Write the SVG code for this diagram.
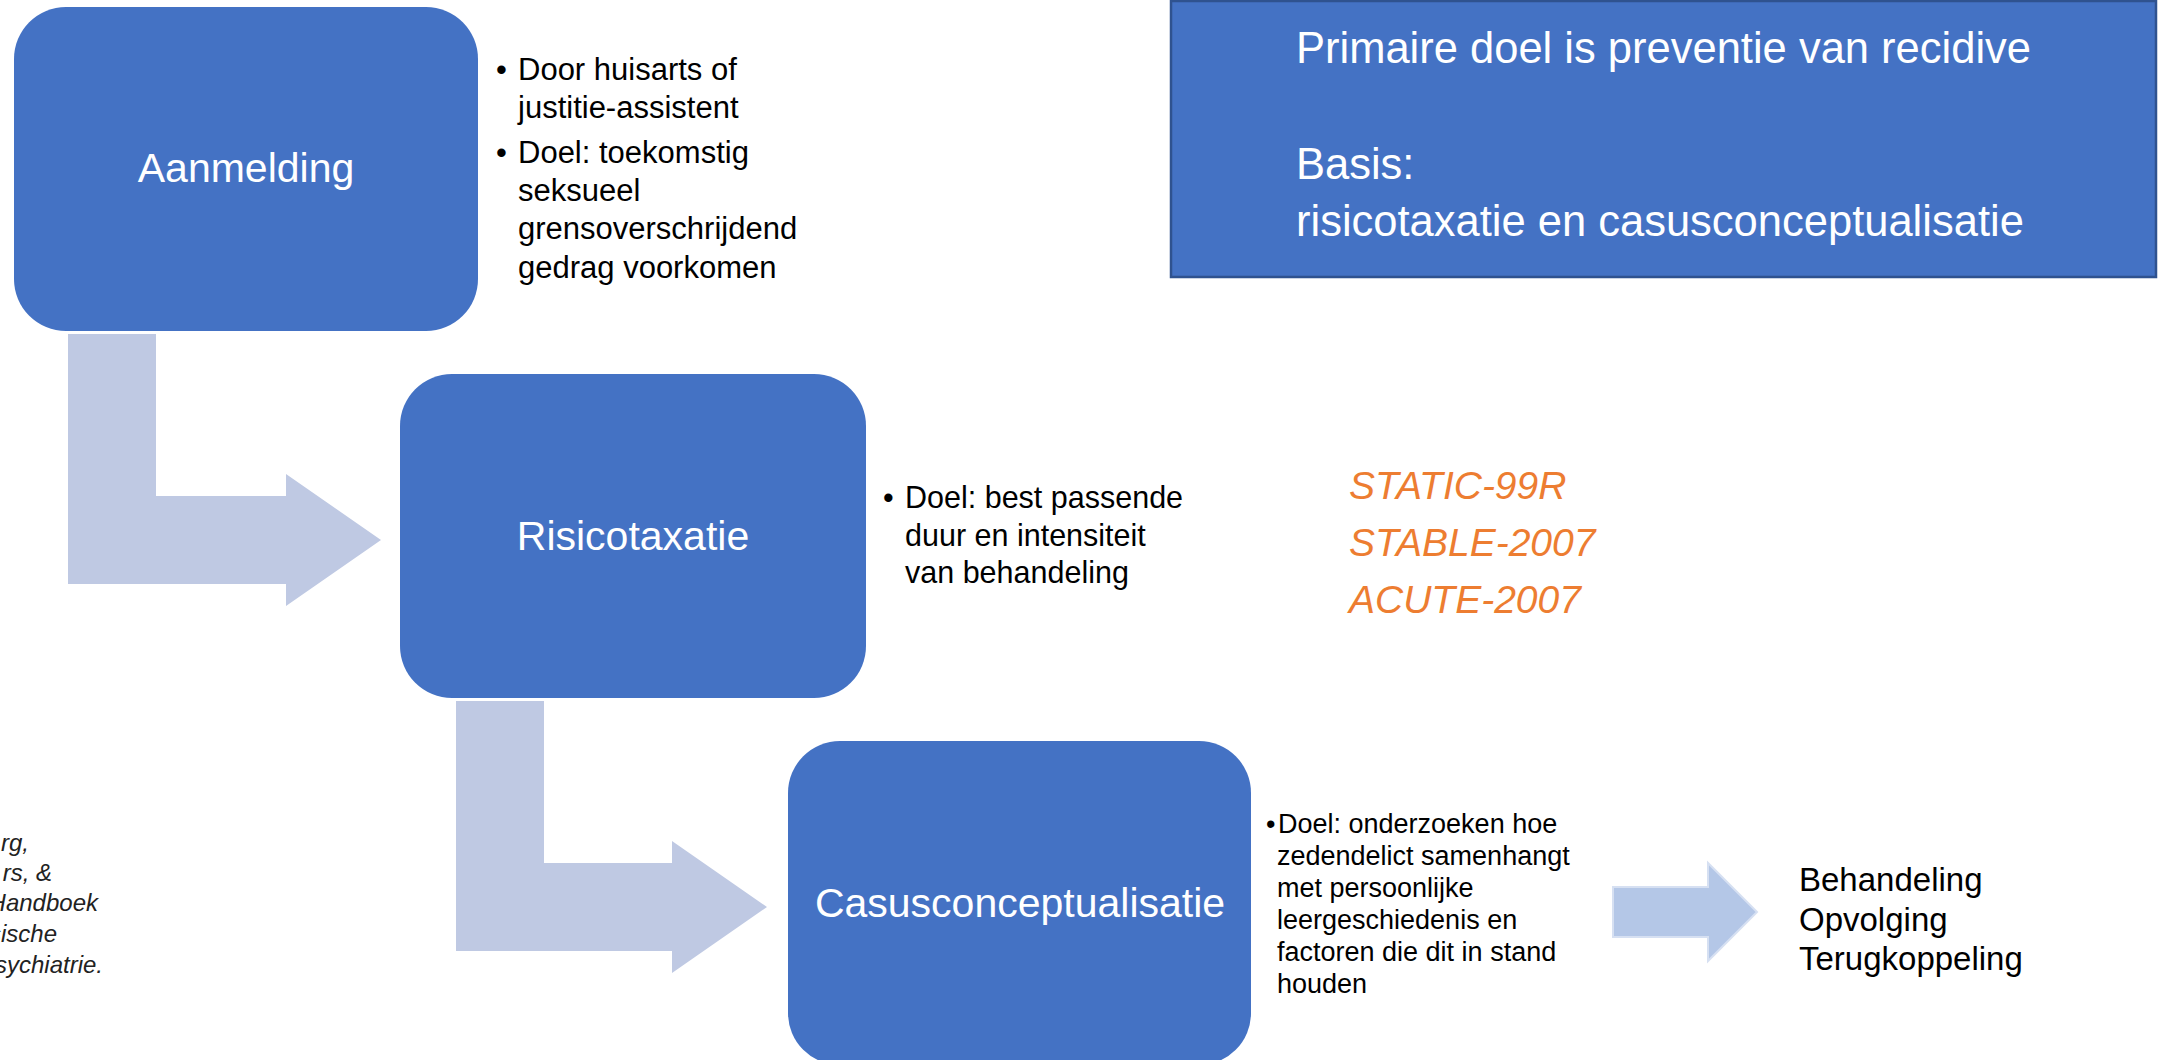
<svg xmlns="http://www.w3.org/2000/svg" width="2162" height="1060" viewBox="0 0 2162 1060">
<style>
text{font-family:"Liberation Sans",Arial,sans-serif;}
.box{fill:#4472C4;}
.lbl{fill:#FFFFFF;font-size:41px;text-anchor:middle;}
.bt{fill:#000000;}
.bend{fill:#BFC9E3;}
.small{fill:#B4C7E7;stroke:#D6E0F2;stroke-width:2;}
.orange{fill:#ED7D31;font-style:italic;font-size:39px;}
.ref{fill:#222222;font-style:italic;font-size:24px;text-anchor:end;}
.info{fill:#FFFFFF;font-size:43.5px;}
</style>
<rect width="2162" height="1060" fill="#FFFFFF"/>

<g id="connectors">
  <path class="bend" d="M68,334 H156 V496 H286 V474 L381,540 L286,606 V584 H68 Z"/>
  <path class="bend" d="M456,701 H544 V863 H672 V841 L767,907 L672,973 V951 H456 Z"/>
  <path class="small" d="M1613,887 H1708 V863 L1757,912 L1708,961 V937 H1613 Z"/>
</g>

<g id="info-box">
  <rect x="1171" y="1" width="985" height="276" fill="#4472C4" stroke="#2F528F" stroke-width="2.5"/>
  <text class="info" x="1296" y="63">Primaire doel is preventie van recidive</text>
  <text class="info" x="1296" y="179">Basis:</text>
  <text class="info" x="1296" y="236">risicotaxatie en casusconceptualisatie</text>
</g>

<g id="aanmelding">
  <rect class="box" x="14" y="7" width="464" height="324" rx="52" ry="52"/>
  <text class="lbl" x="246" y="182">Aanmelding</text>
</g>
<g id="aanmelding-notes" font-size="31">
  <text class="bt" x="496" y="80">•</text>
  <text class="bt" x="518" y="80">Door huisarts of</text>
  <text class="bt" x="518" y="118">justitie-assistent</text>
  <text class="bt" x="496" y="163">•</text>
  <text class="bt" x="518" y="163">Doel: toekomstig</text>
  <text class="bt" x="518" y="201">seksueel</text>
  <text class="bt" x="518" y="239">grensoverschrijdend</text>
  <text class="bt" x="518" y="278">gedrag voorkomen</text>
</g>

<g id="risicotaxatie">
  <rect class="box" x="400" y="374" width="466" height="324" rx="52" ry="52"/>
  <text class="lbl" x="633" y="550">Risicotaxatie</text>
</g>
<g id="risicotaxatie-notes" font-size="30.5">
  <text class="bt" x="883" y="508">•</text>
  <text class="bt" x="905" y="508">Doel: best passende</text>
  <text class="bt" x="905" y="546">duur en intensiteit</text>
  <text class="bt" x="905" y="583">van behandeling</text>
</g>

<g id="instruments">
  <text class="orange" x="1349" y="499">STATIC-99R</text>
  <text class="orange" x="1349" y="556">STABLE-2007</text>
  <text class="orange" x="1349" y="613">ACUTE-2007</text>
</g>

<g id="casusconceptualisatie">
  <rect class="box" x="788" y="741" width="463" height="324" rx="52" ry="52"/>
  <text class="lbl" x="1020" y="917">Casusconceptualisatie</text>
</g>
<g id="casus-notes" font-size="27">
  <text class="bt" x="1266" y="833">•</text>
  <text class="bt" x="1278" y="833">Doel: onderzoeken hoe</text>
  <text class="bt" x="1277" y="865">zedendelict samenhangt</text>
  <text class="bt" x="1277" y="897">met persoonlijke</text>
  <text class="bt" x="1277" y="929">leergeschiedenis en</text>
  <text class="bt" x="1277" y="961">factoren die dit in stand</text>
  <text class="bt" x="1277" y="993">houden</text>
</g>

<g id="vervolg" font-size="33">
  <text class="bt" x="1799" y="891">Behandeling</text>
  <text class="bt" x="1799" y="931">Opvolging</text>
  <text class="bt" x="1799" y="970">Terugkoppeling</text>
</g>

<g id="referentie">
  <text class="ref" x="29" y="851">rg,</text>
  <text class="ref" x="52" y="881">rs, &amp;</text>
  <text class="ref" x="98" y="911">Handboek</text>
  <text class="ref" x="57" y="942">sische</text>
  <text class="ref" x="103" y="973">sychiatrie.</text>
</g>
</svg>
